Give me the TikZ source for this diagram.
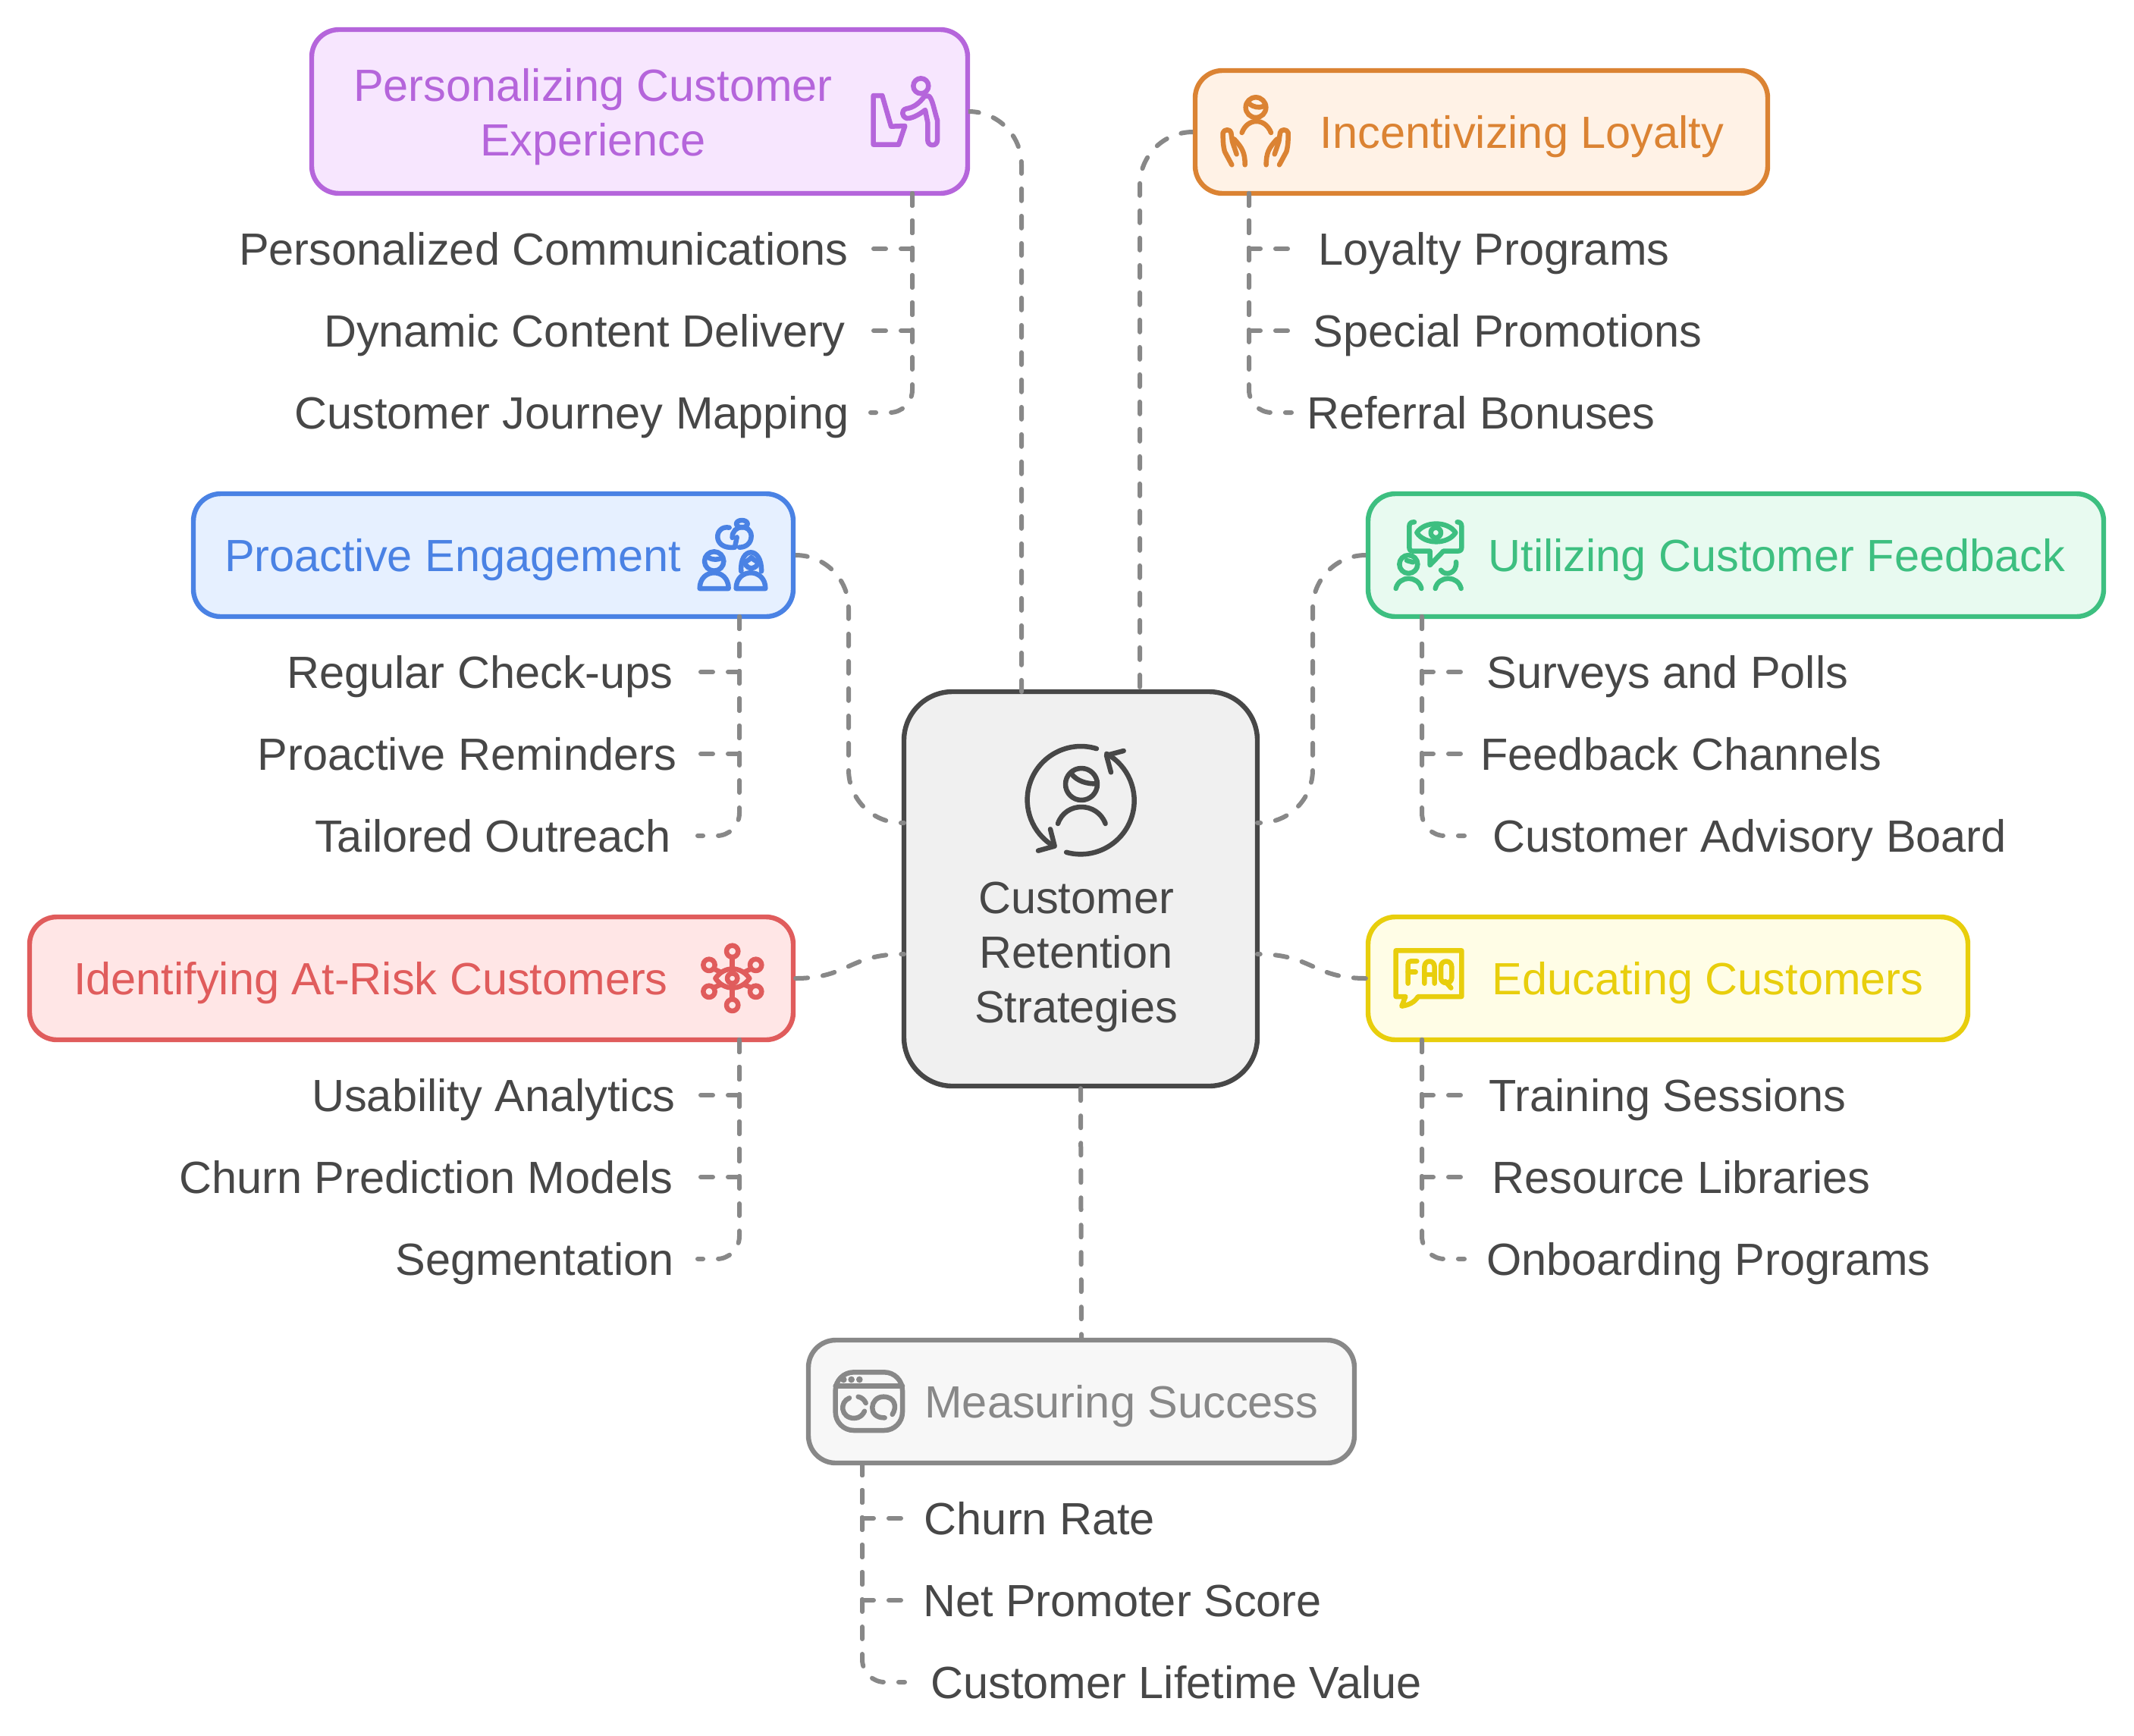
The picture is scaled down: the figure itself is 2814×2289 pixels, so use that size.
\documentclass[tikz,border=0pt]{standalone}
\usepackage{fontspec}
\setmainfont{Liberation Sans}
\definecolor{ink}{HTML}{474747}
\definecolor{linkgray}{HTML}{888888}
\definecolor{purS}{HTML}{B565DB}\definecolor{purF}{HTML}{F7E6FE}
\definecolor{oraS}{HTML}{DB8333}\definecolor{oraF}{HTML}{FFF2E6}
\definecolor{bluS}{HTML}{4A82E4}\definecolor{bluF}{HTML}{E6F0FF}
\definecolor{greS}{HTML}{3DBF80}\definecolor{greF}{HTML}{E8FAF0}
\definecolor{redS}{HTML}{E05C5C}\definecolor{redF}{HTML}{FFE6E6}
\definecolor{yelS}{HTML}{E8CE0C}\definecolor{yelF}{HTML}{FFFDE6}
\definecolor{gryS}{HTML}{888888}\definecolor{gryF}{HTML}{F7F7F7}
\definecolor{cenF}{HTML}{F0F0F0}
\tikzset{
  card/.style={rectangle,rounded corners=36pt,line width=6.4pt,inner sep=0pt},
  txt/.style={inner sep=0pt,font=\fontsize{59.5}{72}\selectfont,text height=42pt,text depth=0pt,text=ink},
  multi/.style={inner sep=0pt,font=\fontsize{59.5}{72}\selectfont,align=center},
  conn/.style={draw=linkgray,line width=6pt,line cap=round,dash pattern=on 16pt off 20pt},
  icon/.style={line width=6.5pt,line cap=round,line join=round},
}
\begin{document}
\begin{tikzpicture}[x=1pt,y=-1pt]
\useasboundingbox (0,0) rectangle (2814,2289);
\fill[white] (0,0) rectangle (2814,2289);
% cards
\node[card,draw=purS,fill=purF,minimum width=865pt,minimum height=216pt] (pb) at (843.5,147) {};
\node[card,draw=oraS,fill=oraF,minimum width=755pt,minimum height=162pt] (ib) at (1953.5,174) {};
\node[card,draw=bluS,fill=bluF,minimum width=791pt,minimum height=162pt] (ab) at (650.5,732) {};
\node[card,draw=greS,fill=greF,minimum width=970pt,minimum height=162pt] (ub) at (2289,732) {};
\node[card,draw=redS,fill=redF,minimum width=1007pt,minimum height=162pt] (rb) at (542.5,1290) {};
\node[card,draw=yelS,fill=yelF,minimum width=791pt,minimum height=162pt] (eb) at (2199.5,1290) {};
\node[card,draw=gryS,fill=gryF,minimum width=720pt,minimum height=162pt] (mb) at (1426,1848) {};
\node[card,rounded corners=64pt,draw=ink,fill=cenF,minimum width=466pt,minimum height=520pt] (cb) at (1425,1172) {};
% card titles
\node[multi,text=purS] (pt) at (782,154) {Personalizing Customer\\Experience};
\node[txt,text=oraS] (it) at (2007,174) {Incentivizing Loyalty};
\node[txt,text=bluS] (at) at (597,732) {Proactive Engagement};
\node[txt,text=greS] (ut) at (2343,732) {Utilizing Customer Feedback};
\node[txt,text=redS] (rt) at (489,1290) {Identifying At-Risk Customers};
\node[txt,text=yelS] (et) at (2252,1290) {Educating Customers};
\node[txt,text=gryS] (mt) at (1479,1848) {Measuring Success};
\node[multi,text=ink] (ct) at (1419,1262) {Customer\\Retention\\Strategies};
% leaves
\node[txt] (p1) at (717,328) {Personalized Communications};
\node[txt] (p2) at (771,436) {Dynamic Content Delivery};
\node[txt] (p3) at (754,544) {Customer Journey Mapping};
\node[txt] (i1) at (1970,328) {Loyalty Programs};
\node[txt] (i2) at (1988,436) {Special Promotions};
\node[txt] (i3) at (1953,544) {Referral Bonuses};
\node[txt] (a1) at (633,886) {Regular Check-ups};
\node[txt] (a2) at (616,994) {Proactive Reminders};
\node[txt] (a3) at (650,1102) {Tailored Outreach};
\node[txt] (u1) at (2199,886) {Surveys and Polls};
\node[txt] (u2) at (2217,994) {Feedback Channels};
\node[txt] (u3) at (2307,1102) {Customer Advisory Board};
\node[txt] (r1) at (651,1444) {Usability Analytics};
\node[txt] (r2) at (562,1552) {Churn Prediction Models};
\node[txt] (r3) at (705,1660) {Segmentation};
\node[txt] (e1) at (2199,1444) {Training Sessions};
\node[txt] (e2) at (2217,1552) {Resource Libraries};
\node[txt] (e3) at (2253,1660) {Onboarding Programs};
\node[txt] (m1) at (1371,2002) {Churn Rate};
\node[txt] (m2) at (1480,2110) {Net Promoter Score};
\node[txt] (m3) at (1551,2218) {Customer Lifetime Value};
% connector helpers
\coordinate (ptr) at (1203,255); \coordinate (pen) at (1148,0);
\coordinate (itr) at (1647,255); \coordinate (ien) at (1703,0);
\coordinate (atr) at (975,813);  \coordinate (aen) at (920,0);
\coordinate (utr) at (1875,813); \coordinate (uen) at (1931,0);
\coordinate (rtr) at (975,1371); \coordinate (ren) at (920,0);
\coordinate (etr) at (1875,1371);\coordinate (een) at (1931,0);
\coordinate (mtr) at (1137,1929);\coordinate (men) at (1193,0);
\coordinate (top1) at (1347,912); \coordinate (top2) at (1503,912);
\coordinate (cl1) at (1192,1085); \coordinate (cr1) at (1658,1085);
\coordinate (cl2) at (1192,1258); \coordinate (cr2) at (1658,1258);
\coordinate (lane1) at (1119,900); \coordinate (lane2) at (1731,900);
% centre to cards
\draw[conn,rounded corners=70pt] (pb.east) -| (top1);
\draw[conn,rounded corners=70pt] (ib.west) -| (top2);
\draw[conn,rounded corners=70pt] (ab.east) -| (lane1) |- (cl1);
\draw[conn,rounded corners=70pt] (ub.west) -| (lane2) |- (cr1);
\draw[conn] (rb.east) .. controls (1119,1290) and (1119,1258) .. (cl2);
\draw[conn] (eb.west) .. controls (1731,1290) and (1731,1258) .. (cr2);
\draw[conn] (cb.south) -- (mb.north);
% leaf connectors
\foreach \t/\e/\k in {ptr/pen/p,itr/ien/i,atr/aen/a,utr/uen/u,rtr/ren/r,etr/een/e,mtr/men/m}{
  \draw[conn] (\t) -- (\t |- \k1) -- (\e |- \k1);
  \draw[conn] (\t) -- (\t |- \k2) -- (\e |- \k2);
  \draw[conn,rounded corners=30pt] (\t) -- (\t |- \k3) -- (\e |- \k3);
}
% centre icon
\begin{scope}[shift={(1270,880)},scale=1/3,icon,draw=ink]
 \draw (465,527) ++(-73:215) arc[start angle=-73,end angle=-239,radius=212];
 \draw (345,640) -- (362,707) -- (297,725);
 \draw (465,527) ++(-254.5:212) arc[start angle=-254.5,end angle=-421,radius=212];
 \draw (635,330) -- (567,348) -- (585,415);
 \draw (468,462) circle[radius=63];
 \draw (428,420) .. controls (450,450) and (490,462) .. (530,460);
 \draw (375,618) .. controls (405,530) and (530,530) .. (563,618);
\end{scope}
% purple icon
\begin{scope}[shift={(1130,90)},scale=1/3,icon,draw=purS]
 \draw (65,108) -- (100,108) -- (135,230) -- (190,228) -- (165,302) -- (65,302) -- cycle;
 \draw (253,70) circle[radius=30];
 \draw (268,110) -- (285,110) .. controls (300,125) and (305,165) .. (318,205) -- (318,285) .. controls (318,310) and (280,310) .. (280,285) -- (280,215) -- (270,165) .. controls (245,185) and (215,200) .. (197,198) .. controls (175,190) and (175,165) .. (195,160) .. controls (225,155) and (245,140) .. (268,110);
\end{scope}
% orange icon
\begin{scope}[shift={(1590,120)},scale=1/3,icon,draw=oraS]
 \draw (198,65) circle[radius=40];
 \draw (172,50) .. controls (190,65) and (210,68) .. (230,60);
 \draw (143,165) .. controls (165,105) and (235,105) .. (258,165);
 \draw (103,292) -- (75,240) .. controls (68,215) and (68,190) .. (68,165) .. controls (72,150) and (98,150) .. (100,165) -- (105,200) -- (122,250);
 \draw (112,190) .. controls (145,225) and (155,245) .. (155,292);
 \draw (291,292) -- (319,240) .. controls (326,215) and (326,190) .. (326,165) .. controls (322,150) and (296,150) .. (294,165) -- (289,200) -- (272,250);
 \draw (282,190) .. controls (249,225) and (239,245) .. (239,292);
\end{scope}
% blue icon
\begin{scope}[shift={(900,670)},scale=1/3,icon,draw=bluS]
 \draw (185,77) .. controls (125,65) and (115,165) .. (205,155);
 \draw (197,117) .. controls (195,65) and (270,60) .. (272,110) .. controls (272,140) and (250,155) .. (225,155);
 \draw (215,115) -- (207,155);
 \draw (235,62) ellipse[x radius=22,y radius=14];
 \draw (125,210) circle[radius=38];
 \draw (105,197) .. controls (120,205) and (140,205) .. (155,197);
 \draw (68,318) .. controls (68,235) and (182,235) .. (182,318) -- cycle;
 \draw (232,250) .. controls (225,150) and (315,150) .. (312,250);
 \draw (250,212) .. controls (262,205) and (268,200) .. (272,195) .. controls (278,200) and (285,208) .. (295,212);
 \draw (250,225) .. controls (262,242) and (282,242) .. (295,225);
 \draw (212,318) .. controls (212,235) and (328,235) .. (328,318) -- cycle;
\end{scope}
% green icon
\begin{scope}[shift={(1820,670)},scale=1/3,icon,draw=greS]
 \draw (135,55) .. controls (122,55) and (115,60) .. (115,72) -- (115,155) .. controls (115,165) and (120,170) .. (130,170) -- (197,170) -- (197,225) -- (250,170) -- (305,170) .. controls (318,170) and (322,165) .. (322,155) -- (322,72) .. controls (322,60) and (315,55) .. (305,55);
 \draw (145,97) .. controls (175,50) and (268,50) .. (298,97) .. controls (268,145) and (175,145) .. (145,97) -- cycle;
 \draw (220,97) circle[radius=20];
 \draw (112,222) circle[radius=36];
 \draw (105,207) .. controls (115,210) and (122,212) .. (130,214);
 \draw (62,318) .. controls (75,265) and (150,265) .. (163,318);
 \draw (240,245) .. controls (255,270) and (305,260) .. (300,213);
 \draw (218,318) .. controls (230,265) and (308,265) .. (320,318);
\end{scope}
% red icon
\begin{scope}[shift={(900,1230)},scale=1/3,icon,draw=redS]
 \foreach \p in {(197,73),(105,127),(290,127),(105,232),(290,232),(197,286)} \draw \p circle[radius=23];
 \draw (130,180) .. controls (165,130) and (230,130) .. (265,180) .. controls (230,230) and (165,230) .. (130,180) -- cycle;
 \draw (197,180) circle[radius=20];
 \draw (197,96) -- (197,140); \draw (197,220) -- (197,263);
 \draw (125,143) -- (150,155); \draw (270,143) -- (245,155);
 \draw (125,216) -- (150,205); \draw (270,216) -- (245,205);
\end{scope}
% yellow icon
\begin{scope}[shift={(1820,1230)},scale=1/3,icon,draw=yelS]
 \draw (62,70) -- (322,70) -- (322,252) -- (150,252) .. controls (135,275) and (115,285) .. (85,290) -- (100,252) -- (62,252) -- cycle;
 \draw (110,200) -- (110,125) .. controls (110,115) and (115,112) .. (122,112) -- (145,112);
 \draw (110,155) -- (140,155);
 \draw (175,200) -- (175,135) .. controls (175,105) and (215,105) .. (215,135) -- (215,200);
 \draw (175,165) -- (215,165);
 \draw (240,135) .. controls (240,105) and (283,105) .. (283,135) -- (283,178) .. controls (283,205) and (240,205) .. (240,178) -- cycle;
 \draw (258,192) -- (280,218);
\end{scope}
% gray icon
\begin{scope}[shift={(1080,1800)},scale=1/3,icon,draw=gryS]
 \draw[rounded corners=24pt] (65,28) rectangle (330,258);
 \draw (65,82) -- (330,82);
 \fill[gryS] (97,57) circle[radius=13] (128,57) circle[radius=13] (160,57) circle[radius=13];
 \draw (120,130) .. controls (80,145) and (85,210) .. (140,210) .. controls (160,210) and (175,195) .. (180,182);
 \draw (155,125) .. controls (170,128) and (180,138) .. (185,150);
 \draw (260,208) .. controls (190,210) and (200,125) .. (255,125) .. controls (300,125) and (310,165) .. (290,195);
\end{scope}
\end{tikzpicture}
\end{document}
